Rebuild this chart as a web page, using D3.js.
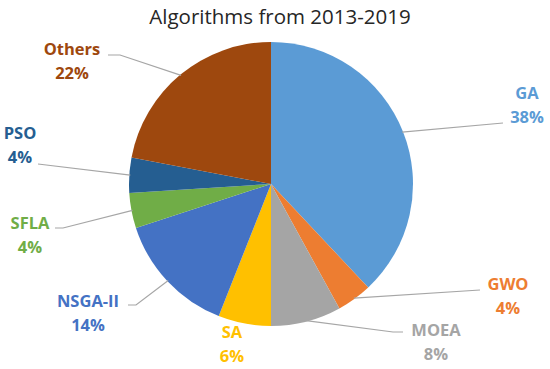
<!DOCTYPE html>
<html>
<head>
<meta charset="utf-8">
<script src="https://cdn.jsdelivr.net/npm/d3@7"></script>
<style>
  html, body { margin: 0; padding: 0; background: #ffffff; }
  svg { display: block; }
</style>
</head>
<body>
<svg id="chart" width="550" height="369"></svg>
<script>
// ---- data ----
const title = "Algorithms from 2013-2019";
const categories = ["GA", "GWO", "MOEA", "SA", "NSGA-II", "SFLA", "PSO", "Others"];
const values = [38, 4, 8, 6, 14, 4, 4, 22];
const colors = ["#5B9BD5", "#ED7D31", "#A5A5A5", "#FFC000", "#4472C4", "#70AD47", "#255E91", "#9E480E"];

// ---- layout (label placement, not data) ----
const labelPos = {
  "GA":      { x: 527, y: 93,  leader: [[503, 123]] },
  "GWO":     { x: 508, y: 284, leader: [[480, 290]] },
  "MOEA":    { x: 436, y: 330, leader: [[393, 332], [403, 332]] },
  "SA":      { x: 232, y: 332, leader: null },
  "NSGA-II": { x: 88,  y: 301, leader: [[136, 305], [128, 305]] },
  "SFLA":    { x: 30,  y: 223, leader: [[63, 228], [55, 228]] },
  "PSO":     { x: 20,  y: 133, leader: [[38, 164]] },
  "Others":  { x: 72,  y: 49,  leader: [[120, 55], [108, 55]] }
};

const svg = d3.select("#chart");
const cx = 271, cy = 184, r = 142;

svg.append("text")
  .attr("x", 280).attr("y", 24)
  .attr("text-anchor", "middle")
  .attr("font-family", "'Open Sans', sans-serif")
  .attr("font-size", 20.5)
  .attr("fill", "#262626")
  .text(title);

const data = categories.map((c, i) => ({ name: c, value: values[i], color: colors[i] }));
const total = d3.sum(values);

const pie = d3.pie().value(d => d.value).sort(null);
const arc = d3.arc().innerRadius(0).outerRadius(r);
const arcs = pie(data);

const g = svg.append("g").attr("transform", `translate(${cx},${cy})`);
g.selectAll("path.slice")
  .data(arcs)
  .enter().append("path")
  .attr("class", "slice")
  .attr("d", arc)
  .attr("fill", d => d.data.color);

// leader lines
const line = d3.line();
arcs.forEach(a => {
  const lp = labelPos[a.data.name];
  if (!lp.leader) return;
  const mid = (a.startAngle + a.endAngle) / 2;
  const sx = cx + (r - 1) * Math.sin(mid);
  const sy = cy - (r - 1) * Math.cos(mid);
  const pts = [[sx, sy]].concat(lp.leader);
  svg.append("path")
    .attr("d", line(pts))
    .attr("fill", "none")
    .attr("stroke", "#A6A6A6")
    .attr("stroke-width", 1.2);
});

// labels
arcs.forEach(a => {
  const lp = labelPos[a.data.name];
  const t = svg.append("text")
    .attr("text-anchor", "middle")
    .attr("font-family", "'Open Sans', sans-serif")
    .attr("font-weight", "bold")
    .attr("font-size", 16.5)
    .attr("fill", a.data.color);
  t.append("tspan").attr("x", lp.x).attr("y", lp.y + 6).text(a.data.name);
  t.append("tspan").attr("x", lp.x).attr("y", lp.y + 30)
    .text(Math.round(a.data.value / total * 100) + "%");
});
</script>
</body>
</html>
